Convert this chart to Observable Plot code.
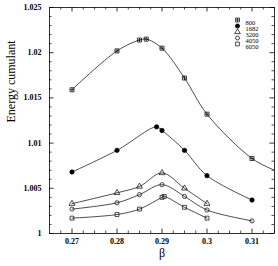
<!DOCTYPE html>
<html><head><meta charset="utf-8">
<script src="https://cdn.jsdelivr.net/npm/d3@7"></script>
<script src="https://cdn.jsdelivr.net/npm/@observablehq/plot@0.6"></script>
<style>body{margin:0;background:#fff}</style>
</head><body><div id="chart"></div>
<script>
const xTicks = [0.27, 0.28, 0.29, 0.3, 0.31];
const xTickLabels = ["0.27", "0.28", "0.29", "0.3", "0.31"];
const yTicks = [1, 1.005, 1.01, 1.015, 1.02, 1.025];
const yTickLabels = ["1", "1.005", "1.01", "1.015", "1.02", "1.025"];
const seriesNames = ["800", "1682", "3200", "4050", "6050"];

const beta800 = [0.27, 0.28, 0.285, 0.2865, 0.29, 0.295, 0.3, 0.31];
const val800 = [1.0159, 1.0202, 1.0214, 1.0215, 1.0205, 1.0172, 1.0132, 1.0083];
const tail800Beta = [0.315];
const tail800Val = [1.0070];
const beta1682 = [0.27, 0.28, 0.2888, 0.29, 0.295, 0.3, 0.31];
const val1682 = [1.0068, 1.0092, 1.0118, 1.0114, 1.0092, 1.0064, 1.0037];
const beta3200 = [0.27, 0.28, 0.285, 0.29, 0.295, 0.3];
const val3200 = [1.0033, 1.0045, 1.0052, 1.0067, 1.0050, 1.0033];
const beta4050 = [0.27, 0.28, 0.285, 0.29, 0.295, 0.3, 0.31];
const val4050 = [1.0027, 1.0034, 1.0043, 1.0054, 1.0041, 1.0026, 1.0014];
const beta6050 = [0.27, 0.28, 0.285, 0.29, 0.2905, 0.295, 0.3];
const val6050 = [1.0017, 1.0021, 1.0027, 1.0040, 1.0041, 1.0029, 1.0017];

const squarePlus = {
  draw(ctx, size) {
    const r = Math.sqrt(size / Math.PI) * 0.85;
    ctx.moveTo(-r, -r); ctx.lineTo(r, -r); ctx.lineTo(r, r); ctx.lineTo(-r, r); ctx.closePath();
    ctx.moveTo(-r, 0); ctx.lineTo(r, 0);
    ctx.moveTo(0, -r); ctx.lineTo(0, r);
  }
};

const styles = [
  {symbol: squarePlus, fill: "none", r: 2.4},
  {symbol: "circle", fill: "#000", r: 2.2},
  {symbol: "triangle", fill: "none", r: 2.2},
  {symbol: "circle", fill: "none", r: 2.1},
  {symbol: "square", fill: "none", r: 2.2}
];

const xs = [beta800, beta1682, beta3200, beta4050, beta6050];
const ys = [val800, val1682, val3200, val4050, val6050];
const points = [];
xs.forEach((bx, i) => bx.forEach((b, j) => points.push({series: seriesNames[i], idx: i, beta: b, value: ys[i][j]})));
const linePts = points.slice();
tail800Beta.forEach((b, j) => linePts.push({series: "800", idx: 0, beta: b, value: tail800Val[j]}));
linePts.sort((a, b) => a.idx - b.idx || a.beta - b.beta);

const W = 278, H = 266, mL = 49, mR = 4, mT = 7, mB = 33;
const fh = H - mT - mB;
const fw = W - mL - mR;
const xMinor = d3.range(0.2675, 0.3150001, 0.0025).filter(v => !xTicks.some(t => Math.abs(t - v) < 1e-6));
const yMinor = d3.range(1.001, 1.0250001, 0.001).filter(v => !yTicks.some(t => Math.abs(t - v) < 1e-7));
const font = "Liberation Serif";

const marks = [
  Plot.frame({stroke: "#000", strokeWidth: 0.8}),
  Plot.ruleX(xTicks, {insetTop: fh - 4.5, stroke: "#000", strokeWidth: 0.8}),
  Plot.ruleX(xTicks, {insetBottom: fh - 4.5, stroke: "#000", strokeWidth: 0.8}),
  Plot.ruleX(xMinor, {insetTop: fh - 2.5, stroke: "#000", strokeWidth: 0.7}),
  Plot.ruleX(xMinor, {insetBottom: fh - 2.5, stroke: "#000", strokeWidth: 0.7}),
  Plot.ruleY(yTicks, {insetRight: fw - 4.5, stroke: "#000", strokeWidth: 0.8}),
  Plot.ruleY(yTicks, {insetLeft: fw - 4.5, stroke: "#000", strokeWidth: 0.8}),
  Plot.ruleY(yMinor, {insetRight: fw - 2.5, stroke: "#000", strokeWidth: 0.7}),
  Plot.ruleY(yMinor, {insetLeft: fw - 2.5, stroke: "#000", strokeWidth: 0.7}),
  Plot.axisX({ticks: xTicks, tickSize: 0, tickPadding: 5, tickFormat: d => xTickLabels[xTicks.indexOf(d)], fontSize: 8, fontWeight: "bold", label: null}),
  Plot.axisY({ticks: yTicks, tickSize: 0, tickPadding: 8, tickFormat: d => yTickLabels[yTicks.indexOf(d)], fontSize: 8, fontWeight: "bold", label: null}),
  Plot.line(linePts, {x: "beta", y: "value", z: "series", curve: "catmull-rom", stroke: "#000", strokeWidth: 0.7, clip: true}),
  ...styles.map((s, i) => Plot.dot(points.filter(p => p.idx === i), {x: "beta", y: "value", symbol: () => s.symbol, r: s.r, fill: s.fill, stroke: "#000", strokeWidth: 0.7})),
  ...styles.map((s, i) => Plot.dot([0], {frameAnchor: "top-right", dx: -37, dy: 12.5 + i * 6, symbol: () => s.symbol, r: s.r * 0.95, fill: s.fill, stroke: "#000", strokeWidth: 0.7})),
  ...seriesNames.map((n, i) => Plot.text([n], {frameAnchor: "top-right", dx: -29, dy: 12.5 + i * 6, text: d => d, textAnchor: "start", fontSize: 6.5, fill: "#000"})),
  Plot.text(["β"], {frameAnchor: "bottom", dy: 23, text: d => d, fontSize: 12, fill: "#000"}),
  Plot.text(["Energy cumulant"], {frameAnchor: "left", dx: -38.5, dy: 2, rotate: -90, text: d => d, fontSize: 12, fill: "#000"})
];

const chart = Plot.plot({
  width: W, height: H,
  marginLeft: mL, marginRight: mR, marginTop: mT, marginBottom: mB,
  x: {domain: [0.265, 0.315]},
  y: {domain: [1, 1.025]},
  symbol: {type: "identity"},
  style: {fontFamily: font, background: "#fff", color: "#000"},
  marks
});
document.getElementById("chart").appendChild(chart);
</script>
</body></html>
